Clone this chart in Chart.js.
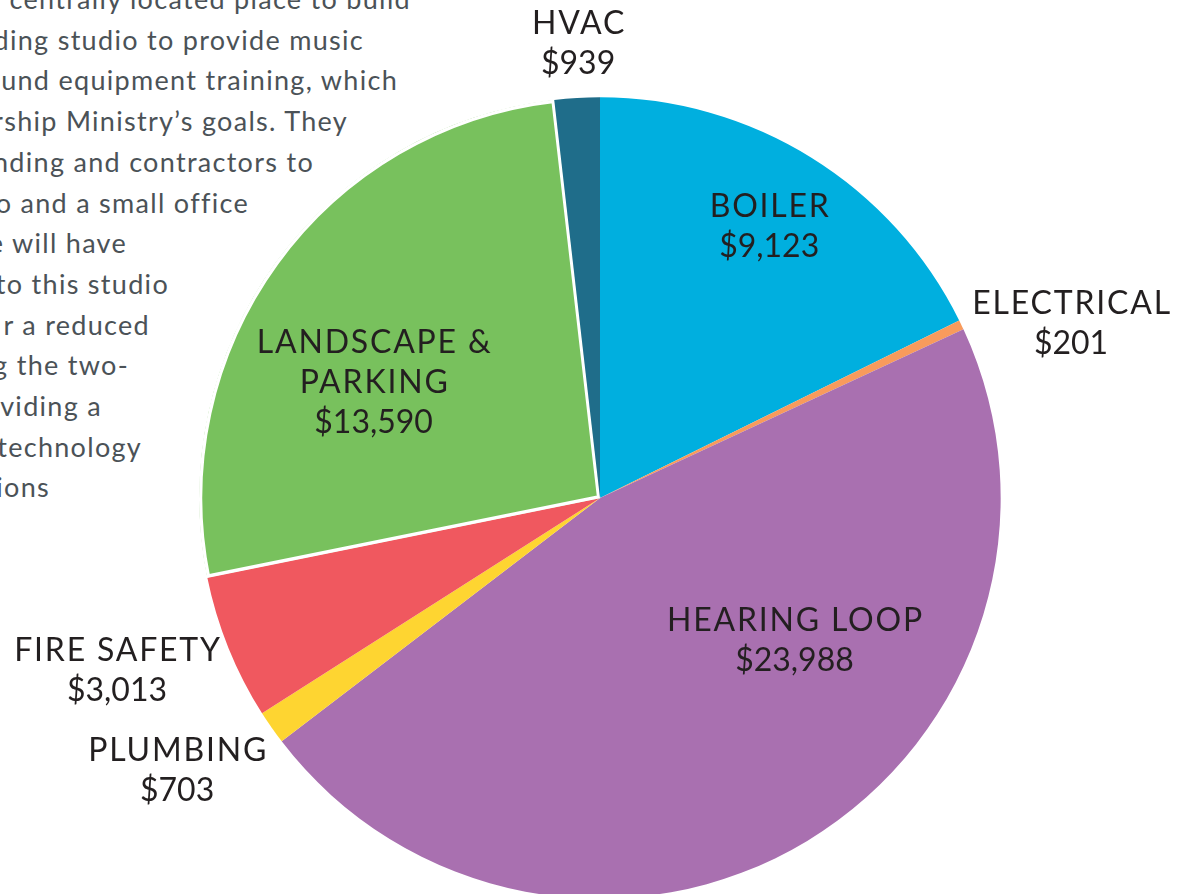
<!DOCTYPE html>
<html>
<head>
<meta charset="utf-8">
<title>Project costs</title>
<script src="https://cdn.jsdelivr.net/npm/chart.js@4.4.0/dist/chart.umd.min.js"></script>
<style>
  html, body {
    margin: 0;
    padding: 0;
    width: 1185px;
    height: 894px;
    overflow: hidden;
    background: #fff;
  }
  .body-text {
    position: absolute;
    left: 0;
    top: 0;
    width: 1185px;
    height: 894px;
    font-family: Lato, "Open Sans", sans-serif;
    font-size: 27px;
    letter-spacing: 1.3px;
    color: #4b5257;
  }
  .body-text div {
    position: absolute;
    white-space: nowrap;
    text-align: right;
  }
  #chartBox {
    position: absolute;
    left: 0;
    top: 0;
    width: 1185px;
    height: 899px;
  }
</style>
</head>
<body>
<div class="body-text" id="bodyText"></div>
<div id="chartBox"><canvas id="costChart"></canvas></div>

<script>
// chart data
const categories = ["BOILER", "ELECTRICAL", "HEARING LOOP", "PLUMBING", "FIRE SAFETY", "LANDSCAPE & PARKING", "HVAC"];
const labelLines = [["BOILER"], ["ELECTRICAL"], ["HEARING LOOP"], ["PLUMBING"], ["FIRE SAFETY"], ["LANDSCAPE &", "PARKING"], ["HVAC"]];
const costs = [9123, 201, 23988, 703, 3013, 13590, 939];
const sliceColors = ["#00afdf", "#f89b5c", "#a970b0", "#fed531", "#f0585f", "#78c15d", "#1f6d8a"];

// article text cut off at the left edge of the page
const paragraphLines = [
  "centrally located place to build",
  "ding studio to provide music",
  "und equipment training, which",
  "rship Ministry\u2019s goals. They",
  "nding and contractors to",
  "o and a small office",
  "e will have",
  "to this studio",
  "r a reduced",
  "g the two-",
  "viding a",
  "technology",
  "ions"
];
const paragraphRightEdges = [410, 363, 397, 347, 313, 248, 126, 168, 149, 128, 101, 141, 49];

/**
 * Put the cropped paragraph lines back on the page
 */
function drawParagraph() {
  const box = document.getElementById("bodyText");
  paragraphLines.forEach((line, i) => {
    const div = document.createElement("div");
    div.textContent = line;
    // letter-spacing leaves a trailing gap, so push the line right by it
    div.style.right = (1185 - paragraphRightEdges[i] - 1) + "px";
    div.style.width = "600px";
    div.style.top = (i * 40.7 - 18) + "px";
    box.appendChild(div);
  });
}

// label placement: distance from centre (in radii) and a small nudge in px
const labelPlacement = [
  { dist: 0.79, dx: 2, dy: -3 },
  { dist: 1.25, dx: 19, dy: 41 },
  { dist: 0.6, dx: 70, dy: -64 },
  { dist: 1.25, dx: -12, dy: -15 },
  { dist: 1.28, dx: -7, dy: -20 },
  { dist: 0.63, dx: -22, dy: 32 },
  { dist: 1.13, dx: 4, dy: -3 }
];

/**
 * Draws the name and the amount for each slice
 */
const sliceLabels = {
  id: "sliceLabels",
  afterDatasetsDraw(chart) {
    const ctx = chart.ctx;
    const meta = chart.getDatasetMeta(0);
    ctx.save();
    ctx.font = '32px Lato, "Open Sans", sans-serif';
    ctx.fillStyle = "#231f20";
    ctx.textAlign = "center";
    ctx.textBaseline = "middle";
    meta.data.forEach((arc, i) => {
      const place = labelPlacement[i];
      const mid = (arc.startAngle + arc.endAngle) / 2;
      const d = arc.outerRadius * place.dist;
      const x = arc.x + Math.cos(mid) * d + place.dx;
      const y = arc.y + Math.sin(mid) * d + place.dy + 1;
      const names = labelLines[i];
      const amount = "$" + costs[i].toLocaleString("en-US");
      const lineHeight = 40;
      const top = y - (names.length * lineHeight) / 2;
      // names are spaced out a little, amounts are not
      ctx.letterSpacing = "1.8px";
      names.forEach((text, j) => {
        ctx.fillText(text, x + 1, top + j * lineHeight);
      });
      ctx.letterSpacing = "0px";
      ctx.fillText(amount, x, top + names.length * lineHeight);
    });
    ctx.restore();
  }
};

document.addEventListener("DOMContentLoaded", function () {
  drawParagraph();

  const canvas = document.getElementById("costChart");
  new Chart(canvas.getContext("2d"), {
    type: "pie",
    data: {
      labels: categories,
      datasets: [
        {
          data: costs,
          backgroundColor: sliceColors,
          borderColor: "#ffffff",
          // only the landscape slice has a white outline
          borderWidth: [0, 0, 0, 0, 0, 3, 0],
          borderAlign: "inner"
        }
      ]
    },
    options: {
      responsive: true,
      maintainAspectRatio: false,
      animation: false,
      events: [],
      layout: {
        padding: { left: 199, top: 97, right: 184, bottom: 0 }
      },
      plugins: {
        legend: { display: false },
        tooltip: { enabled: false }
      }
    },
    plugins: [sliceLabels]
  });
});
</script>
</body>
</html>
